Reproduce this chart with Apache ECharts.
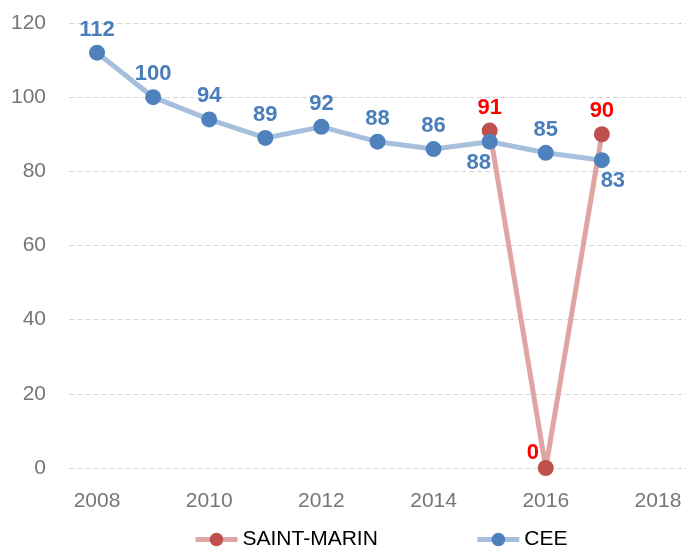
<!DOCTYPE html>
<html>
<head>
<meta charset="utf-8">
<script src="https://cdn.jsdelivr.net/npm/echarts@6/dist/echarts.min.js"></script>
<style>
  html, body { margin: 0; padding: 0; background: #fff; }
  #chart { width: 686px; height: 552px; }
</style>
</head>
<body>
<div id="chart"></div>
<script>
const years = ['2008', '2009', '2010', '2011', '2012', '2013', '2014', '2015', '2016', '2017', '2018'];
const ceeValues = [112, 100, 94, 89, 92, 88, 86, 88, 85, 83, null];
const saintMarinValues = [null, null, null, null, null, null, null, 91, 0, 90, null];
const yTicks = { min: 0, max: 120, interval: 20 };

const font = 'Liberation Sans, Arial, sans-serif';

// labels that sit below / beside their point
const ceeLabelAt = {
  7: { position: 'bottom', offset: [-11, -2] },
  9: { position: 'bottom', offset: [11, -2] }
};
const smLabelAt = {
  8: { position: 'top', offset: [-13, 8] }
};

function withLabels(values, overrides) {
  return values.map((v, i) => {
    if (v == null) return null;
    if (overrides[i]) return { value: v, label: overrides[i] };
    return v;
  });
}

const chart = echarts.init(document.getElementById('chart'));
chart.setOption({
  animation: false,
  grid: { left: 69, right: 0, top: 23, bottom: 84 },
  legend: {
    bottom: -3,
    left: 188,
    itemGap: 97,
    itemWidth: 42,
    itemHeight: 17,
    lineStyle: { width: 5 },
    textStyle: { fontFamily: font, fontSize: 21, color: '#000' },
    data: ['SAINT-MARIN', 'CEE']
  },
  xAxis: {
    type: 'category',
    data: years,
    boundaryGap: true,
    axisLine: { show: false },
    axisTick: { show: false },
    axisLabel: {
      interval: 1,
      margin: 23,
      color: '#767676',
      fontFamily: font,
      fontSize: 21
    }
  },
  yAxis: {
    type: 'value',
    min: yTicks.min,
    max: yTicks.max,
    interval: yTicks.interval,
    axisLine: { show: false },
    axisTick: { show: false },
    axisLabel: {
      margin: 23,
      color: '#767676',
      fontFamily: font,
      fontSize: 21
    },
    splitLine: { lineStyle: { color: '#d6d6d6', type: [5, 3], width: 1 } }
  },
  series: [
    {
      name: 'SAINT-MARIN',
      type: 'line',
      data: withLabels(saintMarinValues, smLabelAt),
      symbol: 'circle',
      symbolSize: 16,
      lineStyle: { color: '#e0a4a3', width: 5 },
      itemStyle: { color: '#c0504d' },
      label: {
        show: true,
        position: 'top',
        distance: 4,
        color: '#ff0000',
        fontFamily: font,
        fontWeight: 'bold',
        fontSize: 22
      },
      z: 2
    },
    {
      name: 'CEE',
      type: 'line',
      data: withLabels(ceeValues, ceeLabelAt),
      symbol: 'circle',
      symbolSize: 16,
      lineStyle: { color: '#a6bfdd', width: 5 },
      itemStyle: { color: '#4f81bd' },
      label: {
        show: true,
        position: 'top',
        distance: 4,
        color: '#4a7ebb',
        fontFamily: font,
        fontWeight: 'bold',
        fontSize: 22
      },
      z: 3
    }
  ]
});
</script>
</body>
</html>
